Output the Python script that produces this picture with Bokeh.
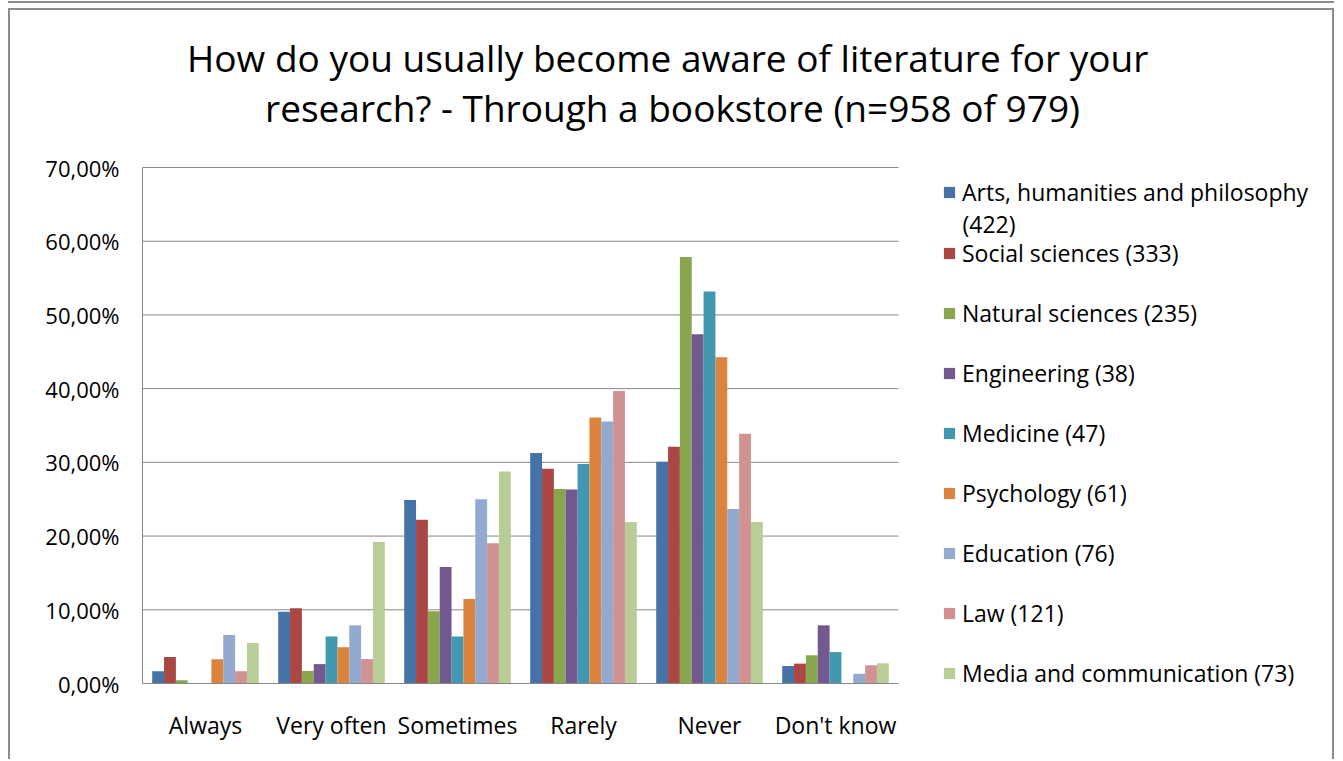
from bokeh.plotting import figure
from bokeh.models import Range1d, Legend, LegendItem, CustomJSTickFormatter, FixedTicker, Label
from bokeh.transform import dodge
from bokeh.embed import file_html
from bokeh.resources import INLINE

# ---------------- data ----------------
categories = ["Always", "Very often", "Sometimes", "Rarely", "Never", "Don't know"]

series_names = [
    "Arts, humanities and philosophy",
    "Social sciences (333)",
    "Natural sciences (235)",
    "Engineering (38)",
    "Medicine (47)",
    "Psychology (61)",
    "Education (76)",
    "Law (121)",
    "Media and communication (73)",
]
first_name_line2 = "(422)"

arts = [1.66, 9.72, 24.88, 31.28, 30.09, 2.37]
social = [3.60, 10.21, 22.22, 29.13, 32.13, 2.70]
natural = [0.43, 1.70, 9.79, 26.38, 57.87, 3.83]
engineering = [0.00, 2.63, 15.79, 26.32, 47.37, 7.89]
medicine = [0.00, 6.38, 6.38, 29.79, 53.19, 4.26]
psychology = [3.28, 4.92, 11.48, 36.07, 44.26, 0.00]
education = [6.58, 7.89, 25.00, 35.53, 23.68, 1.32]
law = [1.65, 3.31, 19.01, 39.67, 33.88, 2.48]
media = [5.48, 19.18, 28.77, 21.92, 21.92, 2.74]

series_values = [arts, social, natural, engineering, medicine, psychology, education, law, media]

colors = ["#4572A7", "#AA4643", "#89A54E", "#71588F", "#4198AF",
          "#DB843D", "#93A9CF", "#D19392", "#B9CD96"]

y_ticks = [0, 10, 20, 30, 40, 50, 60, 70]
y_max = 70

title_text = ("How do you usually become  aware of literature for your\n"
              "research? - Through a bookstore (n=958 of 979)")

# ---------------- layout ----------------
FONT = "Open Sans"
GRID = "#878787"
PX0, PY0 = 10, 10            # canvas origin on the page (margin + border)
W, H = 1326, 751             # canvas size
PL, PR, PT, PB = 142, 898, 167, 683   # plot area on the page

n = len(categories)
unit_px = (PR - PL) / n
x_start = -0.5 - (PL - PX0) / unit_px
x_end = x_start + W / unit_px
pct_px = (PB - PT) / y_max
y_start = -((PY0 + H) - PB) / pct_px
y_end = y_start + H / pct_px


def sx(px):   # page x -> screen units of the frame
    return px - PX0


def sy(py):   # page y -> screen units of the frame (from bottom)
    return (PY0 + H) - py


p = figure(width=W, height=H, output_backend="svg", toolbar_location=None,
           x_range=Range1d(x_start, x_end), y_range=Range1d(y_start, y_end),
           min_border=0, title=None)
p.styles = {"margin-left": "8px", "margin-top": "8px",
            "border-left": "2px solid #8c8c8c", "border-top": "2px solid #8c8c8c",
            "border-right": "2px solid #8c8c8c",
            "box-shadow": "0 -5px 0 0 #ffffff, 0 -7px 0 0 #8c8c8c"}
p.outline_line_color = None
p.xgrid.grid_line_color = None
p.ygrid.grid_line_color = None

# horizontal gridlines across the category area only
p.segment(x0=-0.5, x1=n - 0.5, y0=y_ticks[1:], y1=y_ticks[1:],
          line_color=GRID, line_width=1, level="underlay")

# bars
bar_w = 0.094
data = {"x": list(range(n))}
for i, vals in enumerate(series_values):
    data[f"s{i}"] = vals

items = []
for i, (name, col) in enumerate(zip(series_names, colors)):
    r = p.vbar(x=dodge("x", (i - 4) * bar_w), top=f"s{i}", width=bar_w,
               source=data, fill_color=col, line_color=None)
    items.append(LegendItem(label=name, renderers=[r]))

# axes (fixed inside the canvas)
p.yaxis.fixed_location = -0.5
p.yaxis.bounds = (0, y_max)
p.yaxis.ticker = FixedTicker(ticks=y_ticks)
p.yaxis.formatter = CustomJSTickFormatter(code="return tick.toFixed(2).replace('.', ',') + '%';")
p.yaxis.major_label_text_font = FONT
p.yaxis.major_label_text_font_size = "22px"
p.yaxis.major_label_text_color = "#000000"
p.yaxis.major_tick_out = 0
p.yaxis.major_tick_in = 0
p.yaxis.minor_tick_out = 0
p.yaxis.minor_tick_in = 0
p.yaxis.major_label_standoff = 23
p.yaxis.axis_line_color = GRID

p.xaxis.fixed_location = 0
p.xaxis.bounds = (-0.5, n - 0.5)
p.xaxis.ticker = FixedTicker(ticks=list(range(n)))
p.xaxis.major_label_overrides = {i: c for i, c in enumerate(categories)}
p.xaxis.major_label_text_font = FONT
p.xaxis.major_label_text_font_size = "23px"
p.xaxis.major_label_text_color = "#000000"
p.xaxis.major_tick_out = 0
p.xaxis.major_tick_in = 0
p.xaxis.minor_tick_out = 0
p.xaxis.minor_tick_in = 0
p.xaxis.major_label_standoff = 25
p.xaxis.axis_line_color = GRID

# title
p.add_layout(Label(x=sx(672), y=sy(82), x_units="screen", y_units="screen",
                   text=title_text, text_align="center", text_baseline="middle",
                   text_font=FONT, text_font_size="37px", text_color="#000000",
                   text_line_height=0.99))

# legend
LBL_H, SPC = 48, 12
leg_kw = dict(label_text_font=FONT, label_text_font_size="23px", label_text_color="#000000",
              glyph_width=14, glyph_height=14, label_height=LBL_H, spacing=SPC,
              border_line_color=None, background_fill_alpha=0, padding=0, margin=0,
              label_standoff=6)
top_a = 192 - LBL_H / 2
top_b = 253 - LBL_H / 2
h_b = 8 * LBL_H + 7 * SPC
legend_a = Legend(items=items[:1], location=(sx(942), sy(top_a + LBL_H)), **leg_kw)
legend_b = Legend(items=items[1:], location=(sx(942), sy(top_b + h_b)), **leg_kw)
p.add_layout(legend_a)
p.add_layout(legend_b)
p.add_layout(Label(x=sx(962), y=sy(223), x_units="screen", y_units="screen",
                   text=first_name_line2, text_baseline="middle", text_font=FONT,
                   text_font_size="23px", text_color="#000000"))

open("out.html", "w").write(file_html(p, INLINE))
